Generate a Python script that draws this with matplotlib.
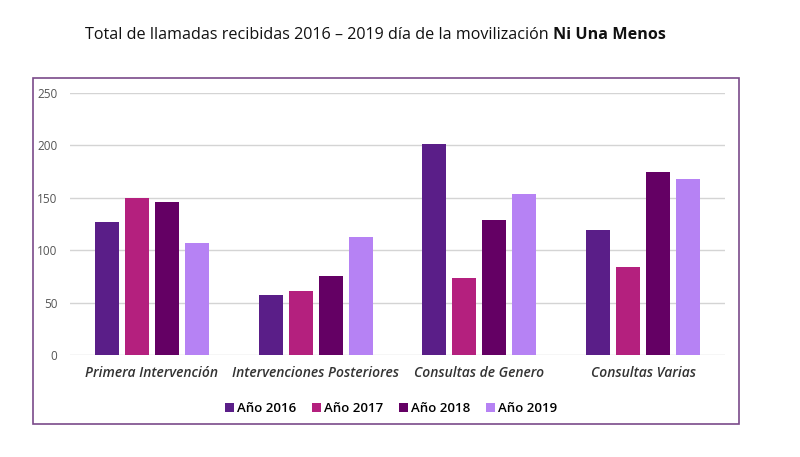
import matplotlib.pyplot as plt
import numpy as np
from matplotlib.patches import Rectangle

categorias = ['Primera Intervención', 'Intervenciones Posteriores',
              'Consultas de Genero', 'Consultas Varias']
anios = ['Año 2016', 'Año 2017', 'Año 2018', 'Año 2019']
v2016 = [127, 57, 201, 119]
v2017 = [150, 61, 73, 84]
v2018 = [146, 75, 129, 175]
v2019 = [107, 113, 154, 168]
colores = ['#5a1e88', '#b4207e', '#640064', '#b682f4']

plt.rcParams['font.family'] = ['Open Sans', 'DejaVu Sans']

fig = plt.figure(figsize=(8, 4.57), dpi=100)

# purple frame around chart area
fig.patches.append(Rectangle((33 / 800, 1 - 424 / 457), 706 / 800, 346 / 457,
                             transform=fig.transFigure, fill=False,
                             edgecolor='#7a4a8a', linewidth=1.2))

fig.text(553 / 800, 1 - 35 / 457,
         'Total de llamadas recibidas 2016 – 2019 día de la movilización ',
         ha='right', va='center', fontsize=11.6, color='#111111')
fig.text(553 / 800, 1 - 35 / 457, 'Ni Una Menos', ha='left', va='center',
         fontsize=11.6, fontweight='bold', color='#111111')

ax = fig.add_axes([70 / 800, 1 - 355 / 457, 655 / 800, 262 / 457])

x = np.arange(len(categorias))
w = 0.147
paso = 0.183
series = [v2016, v2017, v2018, v2019]
for i, (vals, col, lab) in enumerate(zip(series, colores, anios)):
    ax.bar(x + (i - 1.5) * paso, vals, width=w, color=col, label=lab, zorder=3)

ax.set_xlim(-0.5, 3.5)
ax.set_ylim(0, 250)
ax.set_yticks(range(0, 251, 50))
ax.yaxis.grid(True, color='#d4d4d4', linewidth=1, zorder=0)
for s in ax.spines.values():
    s.set_visible(False)
ax.tick_params(axis='y', length=0, labelsize=8.5, labelcolor='#555555', pad=9)
ax.set_xticks(x)
ax.set_xticklabels(categorias, fontsize=10, style='italic', fontweight='semibold',
                   color='#333333')
ax.tick_params(axis='x', length=0, pad=8)

ax.legend(loc='upper center', bbox_to_anchor=(0.49, -0.135), ncol=4,
          frameon=False, handlelength=0.7, handleheight=0.7,
          handletextpad=0.2, columnspacing=1.2,
          prop={'weight': 'semibold', 'size': 9.5})

fig.savefig('out.png', dpi=100)
